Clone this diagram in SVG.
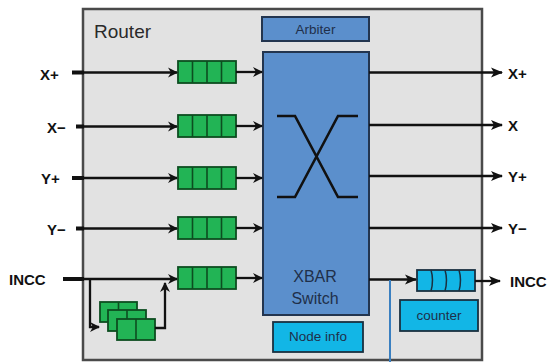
<svg xmlns="http://www.w3.org/2000/svg" width="549" height="362" viewBox="0 0 549 362">
<defs>
<style>
.lbl{font-family:"Liberation Sans",Arial,sans-serif;font-weight:bold;font-size:15px;fill:#111}
.in{font-family:"Liberation Sans",Arial,sans-serif;font-size:13.5px;fill:#1f2f4a}
.ln{stroke:#111;stroke-width:2.3;fill:none}
.q{fill:#22b455;stroke:#0d4d20;stroke-width:1.8}
.qd{stroke:#0d4d20;stroke-width:1.6}
.cq{fill:#12b6e6;stroke:#1a3040;stroke-width:1.8}
.blue{fill:#5b8fcc;stroke:#23354f;stroke-width:2}
</style>
<marker id="ah" markerWidth="12" markerHeight="12" refX="10" refY="6" orient="auto" markerUnits="userSpaceOnUse">
<path d="M1,1 L11,6 L1,11 L4,6 Z" fill="#111"/>
</marker>
<marker id="ah2" markerWidth="14" markerHeight="12" refX="12" refY="6" orient="auto" markerUnits="userSpaceOnUse">
<path d="M1,1 L13,6 L1,11 L4,6 Z" fill="#111"/>
</marker>
</defs>
<rect width="549" height="362" fill="#fff"/>

<g id="router">
<rect x="83" y="9" width="399" height="351" fill="#e2e2e2" stroke="#4a4a4a" stroke-width="2.5"/>
<text x="94" y="38" font-family="Liberation Sans,Arial,sans-serif" font-size="19" fill="#2a2a2a">Router</text>
</g>

<g id="arbiter">
<rect class="blue" x="262" y="17" width="107" height="24"/>
<text class="in" x="315.5" y="34" text-anchor="middle">Arbiter</text>
</g>

<g id="xbar">
<rect class="blue" x="263" y="52" width="106" height="263"/>
<path d="M277,116 H295 L338,197 H358 M358,116 H338 L295,197 H277" stroke="#111" stroke-width="2.6" fill="none"/>
<text x="315" y="282" text-anchor="middle" font-family="Liberation Sans,Arial,sans-serif" font-size="16" fill="#1f2f4a">XBAR</text>
<text x="315" y="304" text-anchor="middle" font-family="Liberation Sans,Arial,sans-serif" font-size="16" fill="#1f2f4a">Switch</text>
</g>

<g id="nodeinfo">
<rect class="cq" x="273" y="322" width="90" height="30"/>
<text class="in" x="318" y="341" text-anchor="middle">Node info</text>
</g>

<g id="counter">
<rect class="cq" x="400" y="300" width="78" height="31"/>
<text class="in" x="439" y="320" text-anchor="middle">counter</text>
</g>

<g id="queues">
<g id="q-xp"><rect class="q" x="178" y="61" width="58" height="22"/><path class="qd" d="M192.5,61 V83 M207,61 V83 M221.5,61 V83"/></g>
<g id="q-xm"><rect class="q" x="178" y="115" width="58" height="22"/><path class="qd" d="M192.5,115 V137 M207,115 V137 M221.5,115 V137"/></g>
<g id="q-yp"><rect class="q" x="178" y="167" width="58" height="22"/><path class="qd" d="M192.5,167 V189 M207,167 V189 M221.5,167 V189"/></g>
<g id="q-ym"><rect class="q" x="178" y="217" width="58" height="22"/><path class="qd" d="M192.5,217 V239 M207,217 V239 M221.5,217 V239"/></g>
<g id="q-incc"><rect class="q" x="178" y="267" width="58" height="22"/><path class="qd" d="M192.5,267 V289 M207,267 V289 M221.5,267 V289"/></g>
<g id="q-out"><rect class="cq" x="417" y="270" width="58" height="21"/><path d="M431,270 Q434,280 431,291 M445,270 Q448,280 445,291 M459,270 Q462,280 459,291" stroke="#1a3040" stroke-width="1.5" fill="none"/></g>
</g>

<g id="bypass-buffers">
<rect class="q" x="100" y="302" width="37" height="20"/><path class="qd" d="M118.5,302 V322"/>
<rect class="q" x="108" y="310" width="38" height="21"/><path class="qd" d="M127,310 V331"/>
<rect class="q" x="117" y="319" width="38" height="21"/><path class="qd" d="M136,319 V340"/>
</g>

<g id="connectors">
<path class="ln" d="M72,72.5 H177" marker-end="url(#ah)"/>
<path class="ln" d="M76,126.5 H177" marker-end="url(#ah)"/>
<path class="ln" d="M72,178 H177" marker-end="url(#ah)"/>
<path class="ln" d="M76,228.5 H177" marker-end="url(#ah)"/>
<path class="ln" d="M63,279 H177" marker-end="url(#ah)"/>
<path d="M72,72.5 H84 M76,126.5 H84 M72,178 H84 M76,228.5 H84 M63,279 H84" stroke="#111" stroke-width="4"/>
<path class="ln" d="M236,72 H262" marker-end="url(#ah)"/>
<path class="ln" d="M236,126 H262" marker-end="url(#ah)"/>
<path class="ln" d="M236,178 H262" marker-end="url(#ah)"/>
<path class="ln" d="M236,228 H262" marker-end="url(#ah)"/>
<path class="ln" d="M236,278 H262" marker-end="url(#ah)"/>
<path class="ln" d="M90,279 V327 H99" marker-end="url(#ah)"/>
<path class="ln" d="M155,328 H165 V283" marker-end="url(#ah)"/>
<path class="ln" d="M369,72.5 H502" marker-end="url(#ah2)"/>
<path class="ln" d="M369,125 H502" marker-end="url(#ah2)"/>
<path class="ln" d="M369,176 H502" marker-end="url(#ah2)"/>
<path class="ln" d="M369,228 H502" marker-end="url(#ah2)"/>
<path class="ln" d="M369,279.5 H416" marker-end="url(#ah2)"/>
<path class="ln" d="M475,281 H500" marker-end="url(#ah2)"/>
<path d="M390,280 V362" stroke="#3a7fc0" stroke-width="2"/>
</g>

<g id="labels">
<text class="lbl" x="40" y="80">X+</text>
<text class="lbl" x="47" y="133">X−</text>
<text class="lbl" x="41" y="184">Y+</text>
<text class="lbl" x="47" y="235">Y−</text>
<text class="lbl" x="9" y="285">INCC</text>
<text class="lbl" x="508" y="79">X+</text>
<text class="lbl" x="508" y="131">X</text>
<text class="lbl" x="508" y="182">Y+</text>
<text class="lbl" x="508" y="234">Y−</text>
<text class="lbl" x="510" y="287">INCC</text>
</g>
</svg>
